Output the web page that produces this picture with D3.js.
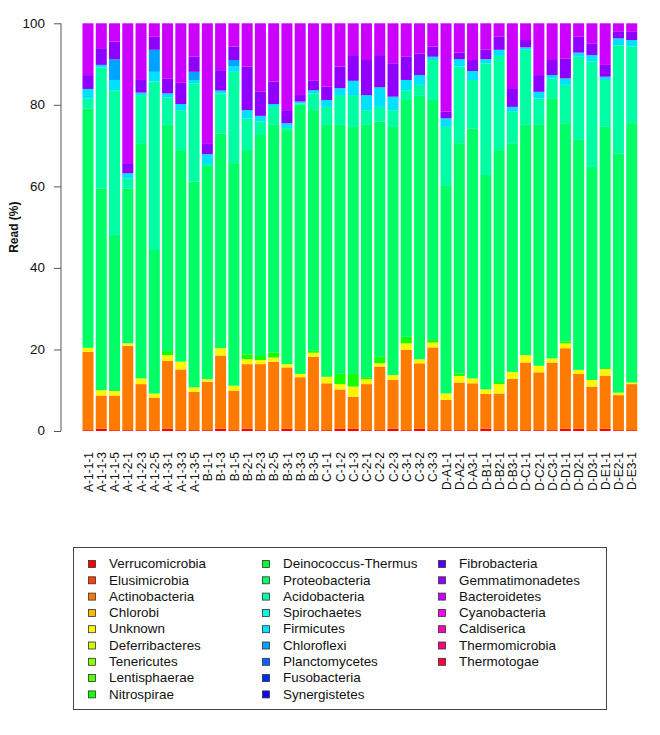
<!DOCTYPE html>
<html><head><meta charset="utf-8">
<script src="https://cdn.jsdelivr.net/npm/d3@7"></script>
<style>
body{margin:0;background:#fff}
svg{display:block}
text{font-family:"Liberation Sans",Arial,Helvetica,sans-serif;fill:#111}
</style>
</head><body><svg id="c" width="660" height="735"></svg>
<script>
const samples = ["A-1-1-1","A-1-1-3","A-1-1-5","A-1-2-1","A-1-2-3","A-1-2-5","A-1-3-1","A-1-3-3","A-1-3-5",
  "B-1-1","B-1-3","B-1-5","B-2-1","B-2-3","B-2-5","B-3-1","B-3-3","B-3-5",
  "C-1-1","C-1-2","C-1-3","C-2-1","C-2-2","C-2-3","C-3-1","C-3-2","C-3-3",
  "D-A1-1","D-A2-1","D-A3-1","D-B1-1","D-B2-1","D-B3-1","D-C1-1","D-C2-1","D-C3-1",
  "D-D1-1","D-D2-1","D-D3-1","D-E1-1","D-E2-1","D-E3-1"];

const phyla = ["Verrucomicrobia","Elusimicrobia","Actinobacteria","Chlorobi","Unknown","Deferribacteres",
  "Tenericutes","Lentisphaerae","Nitrospirae","Deinococcus-Thermus","Proteobacteria","Acidobacteria",
  "Spirochaetes","Firmicutes","Chloroflexi","Planctomycetes","Fusobacteria","Synergistetes",
  "Fibrobacteria","Gemmatimonadetes","Bacteroidetes","Cyanobacteria","Caldiserica","Thermomicrobia","Thermotogae"];

const phylumColors = ["#FF0000","#FF3D00","#FF7A00","#FFB800","#FFF500","#CCFF00","#8FFF00","#52FF00","#14FF00",
  "#00FF29","#00FF66","#00FFA3","#00FFE0","#00E0FF","#00A3FF","#0066FF","#0029FF","#1400FF",
  "#5200FF","#8F00FF","#CC00FF","#FF00F5","#FF00B8","#FF007A","#FF003D"];

const yTicks = [0,20,40,60,80,100];

// percentages per sample (phyla not listed here are 0 in every sample)
const verrucomicrobia = [0.2,0.6,0.2,0.2,0.2,0.2,0.6,0.2,0.2,0.2, 0.6,0.2,0.6,0.2,0.2,0.6,0.2,0.2,0.2,0.6,
  0.6,0.2,0.2,0.6,0.2,0.6,0.2,0.2,0.2,0.2, 0.6,0.2,0.2,0.2,0.2,0.2,0.6,0.6,0.2,0.6, 0.2,0.2];
const actinobacteria = [19.2,8.1,8.5,20.7,11.3,8.0,16.6,14.9,9.4,11.9, 17.9,9.7,15.8,16.2,16.8,15.0,13.0,18.0,11.5,9.6,
  7.8,11.3,15.6,11.9,19.7,16.0,20.3,7.4,11.7,11.5, 8.5,9.0,12.6,16.6,14.2,16.6,19.7,13.4,10.7,13.0, 8.6,11.3];
const unknown = [1.0,1.3,1.1,0.6,1.4,1.0,1.4,1.9,1.1,0.6, 1.8,1.2,1.2,1.0,1.0,0.8,0.8,1.0,1.6,1.3,
  2.5,1.2,0.8,1.2,1.6,1.0,1.2,1.6,1.6,1.2, 1.1,2.3,1.7,1.8,1.6,1.0,1.2,1.0,1.6,1.6, 0.6,0.4];
const nitrospirae = [0,0,0,0,0,0,1.0,0,0,0, 0,0,1.2,1.0,1.3,0,0,0.5,0,2.5,
  3.1,0.5,1.6,0,1.6,0,0.6,0,0.6,0, 0,0.5,0,0,0,0,0.5,0,0,0, 0,0];
const proteobacteria = [58.7,49.5,38.3,38.0,57.7,35.2,55.5,51.9,50.5,52.3, 52.7,54.6,50.1,54.2,55.8,57.4,66.0,59.0,61.8,61.1,
  60.6,61.9,57.7,60.9,58.1,64.6,58.9,51.1,56.5,61.3, 52.6,56.9,56.1,56.5,59.1,63.8,53.5,56.4,52.3,59.4, 58.7,63.6];
const acidobacteria = [2.5,29.7,35.5,2.5,11.8,41.3,6.7,9.8,24.1,0.5, 9.8,22.4,7.8,3.3,4.4,0.5,0.3,4.1,4.4,7.3,
  7.8,3.6,3.6,4.1,2.4,2.7,9.8,14.3,18.8,11.9, 27.4,23.1,7.7,18.4,6.5,4.9,9.4,20.4,25.8,11.5, 26.5,18.8];
const firmicutes = [2.3,0.6,2.5,1.2,0.6,2.4,1.0,1.5,0.8,2.4, 0.7,1.4,2.0,1.4,0.7,1.2,0.5,0.8,1.7,1.7,
  3.5,3.7,4.8,3.3,2.5,2.4,0.8,2.1,1.8,2.2, 1.0,1.5,1.2,0.6,1.6,0.8,1.6,1.0,1.6,0.8, 1.7,1.6];
const chloroflexi = [0,0,5.1,0,0,5.4,0,0,2.0,0, 0,1.5,0,0,0,0,0,0,0,0,
  0,0,0,0,0,0,0,0,0,0, 0,0,0,0,0,0,0,0,0,0, 0,0];
const gemmatimonadetes = [3.4,4.1,4.3,2.5,3.1,3.2,3.7,5.2,3.7,2.7, 5.0,3.3,10.7,5.9,5.5,3.2,1.6,2.3,3.3,5.3,
  6.3,8.6,7.9,8.2,5.7,5.3,2.5,1.6,1.6,2.7, 2.4,3.2,4.6,1.8,4.1,3.7,4.9,3.9,2.9,2.9, 1.6,2.0];
const bacteroidetes = [12.7,6.1,4.5,34.3,13.9,3.3,13.5,14.6,8.2,29.4, 11.5,5.7,10.6,16.8,14.3,21.3,17.6,14.1,15.5,10.6,
  7.8,9.0,7.8,9.8,8.2,7.4,5.7,21.7,7.2,9.0, 6.4,3.3,15.9,4.1,12.7,9.0,8.6,3.3,4.9,10.2, 2.1,2.1];

const seriesByName = {
  "Verrucomicrobia": verrucomicrobia, "Actinobacteria": actinobacteria, "Unknown": unknown,
  "Nitrospirae": nitrospirae, "Proteobacteria": proteobacteria, "Acidobacteria": acidobacteria,
  "Firmicutes": firmicutes, "Chloroflexi": chloroflexi, "Gemmatimonadetes": gemmatimonadetes,
  "Bacteroidetes": bacteroidetes
};

const rows = samples.map((s, i) => {
  const r = {sample: s};
  phyla.forEach(p => { r[p] = seriesByName[p] ? seriesByName[p][i] : 0; });
  return r;
});

const svg = d3.select("#c");
const SX = 1.12; // horizontal text stretch seen in the reference

const x = d3.scaleBand().domain(samples).range([82.5, 637.2]).paddingInner(0.17).paddingOuter(0);
const y = d3.scaleLinear().domain([0, 100]).range([431, 23.3]);
const color = d3.scaleOrdinal().domain(phyla).range(phylumColors);

const stacked = d3.stack().keys(phyla)(rows);

svg.append("g").selectAll("g").data(stacked).join("g")
  .attr("fill", d => color(d.key))
  .selectAll("rect").data(d => d).join("rect")
  .attr("x", d => x(d.data.sample))
  .attr("width", x.bandwidth())
  .attr("y", d => y(d[1]))
  .attr("height", d => Math.max(0, y(d[0]) - y(d[1])));

// y axis
const ax = svg.append("g").attr("transform", "translate(61,0)")
  .call(d3.axisLeft(y).tickValues(yTicks).tickSize(7).tickPadding(9).tickFormat(d3.format("d")));
ax.select(".domain").attr("stroke", "#555").attr("d", `M0,${y(0)}V${y(100)}`);
ax.selectAll(".tick line").attr("stroke", "#555");
ax.selectAll(".tick text").attr("font-size", 12).attr("fill", "#111")
  .attr("font-family", '"Liberation Sans",Arial,sans-serif')
  .each(function() {
    const t = d3.select(this);
    t.attr("transform", `scale(${SX},1)`).attr("x", -16 / SX);
  });

// y label
svg.append("text")
  .attr("transform", `translate(18,${(y(0)+y(100))/2}) rotate(-90)`)
  .attr("text-anchor", "middle").attr("font-size", 12).attr("font-weight", "bold")
  .text("Read (%)");

// x labels
svg.append("g").selectAll("text").data(samples).join("text")
  .attr("transform", d => `translate(${x(d) + x.bandwidth()/2},452) scale(${SX},1) rotate(-90)`)
  .attr("text-anchor", "end").attr("dy", "0.35em").attr("font-size", 12)
  .text(d => d);

// legend
const lg = svg.append("g");
lg.append("rect").attr("x", 73.5).attr("y", 547.5).attr("width", 533).attr("height", 162)
  .attr("fill", "none").attr("stroke", "#444");
const colX = [88, 262, 438];
const textX = [109, 283, 459];
phyla.forEach((p, i) => {
  const c = Math.floor(i / 9), r = i % 9;
  const cy = 564 + r * 16.3;
  lg.append("rect").attr("x", colX[c] + 0.5).attr("y", cy - 3.5).attr("width", 7).attr("height", 7)
    .attr("fill", color(p)).attr("stroke", "#333").attr("stroke-width", 0.8);
  lg.append("text").attr("transform", `translate(${textX[c]},${cy}) scale(${SX},1)`)
    .attr("dy", "0.35em").attr("font-size", 12).text(p);
});
</script>
</body></html>
